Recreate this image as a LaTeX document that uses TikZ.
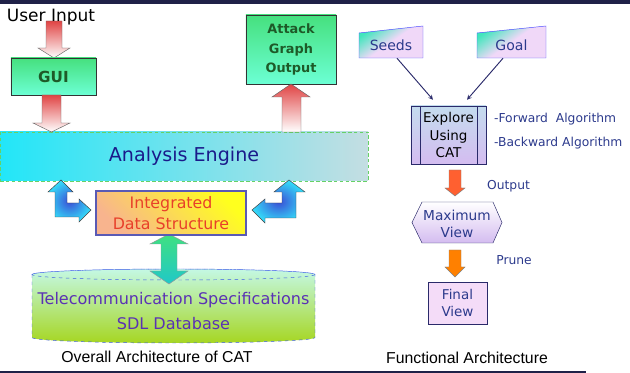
\documentclass[tikz,border=0pt]{standalone}
\usepackage{fontspec}
\setmainfont{DejaVu Sans}
\newfontfamily\capfont{Liberation Sans}
\usetikzlibrary{calc}

\definecolor{barblue}{HTML}{1F2148}
\definecolor{guitop}{HTML}{46E07E}
\definecolor{guibot}{HTML}{6CFFD4}
\definecolor{guitext}{HTML}{1E5A28}
\definecolor{redtop}{HTML}{E04444}
\definecolor{engcyan}{HTML}{22E6F8}
\definecolor{enggray}{HTML}{C4DEE2}
\definecolor{engtext}{HTML}{1A1A8A}
\definecolor{idsyellow}{HTML}{FFFF1E}
\definecolor{idsorange}{HTML}{F8B48E}
\definecolor{idsborder}{HTML}{5A5AB4}
\definecolor{idstext}{HTML}{E8402A}
\definecolor{bentcyan}{HTML}{34D8F8}
\definecolor{bentblue}{HTML}{3A4ED6}
\definecolor{dbtop}{HTML}{C4F8E4}
\definecolor{dbbot}{HTML}{A6D622}
\definecolor{dbborder}{HTML}{3A5AE6}
\definecolor{dbtext}{HTML}{5A32B4}
\definecolor{linktop}{HTML}{40E080}
\definecolor{linkbot}{HTML}{20C8C8}
\definecolor{rtext}{HTML}{2C3A8C}
\definecolor{lavender}{HTML}{F0D8F8}
\definecolor{inteal}{HTML}{40E6BC}
\definecolor{procfill}{HTML}{D4BCF0}
\definecolor{proctop}{HTML}{C4DCEE}
\definecolor{procline}{HTML}{2A2A6A}
\definecolor{outorange}{HTML}{FF6030}
\definecolor{pruneorange}{HTML}{FF8000}
\definecolor{finalfill}{HTML}{F4DCF8}

\begin{document}
\begin{tikzpicture}[x=0.03cm, y=-0.03cm, >=stealth,
    greenbox/.style={draw=black!80, top color=guitop, bottom color=guibot, text=guitext, align=center},
    redblock/.style={draw=black!60, top color=redtop, bottom color=white},
    bentblock/.style={draw=black!75, inner color=bentblue, outer color=bentcyan},
    linkblock/.style={draw=black!40, top color=linktop, bottom color=linkbot},
    inbox/.style={draw=blue!70, top color=inteal, bottom color=lavender, middle color=lavender, shading angle=35},
    blocklabel/.style={text=rtext, font=\fontsize{10.5}{12}\selectfont}]
    \useasboundingbox (0,0) rectangle (630,373);
    \fill[barblue] (0,0) rectangle (630,4);
    \fill[barblue] (0,371) rectangle (586,373);

    % overall architecture
    \shade[redblock] (46,21) -- (62,21) -- (62,48) -- (70,48) -- (54,58) -- (38,48) -- (46,48) -- cycle;
    \node[font=\fontsize{14.5}{16}\selectfont] (user) at (51,17) {User Input};
    \node[greenbox, minimum width=2.55cm, minimum height=1.11cm, font=\bfseries\fontsize{13}{15}\selectfont] (gui) at (53.5,76.5) {GUI};
    \node[draw=green!70!black!60, densely dashed, left color=engcyan, right color=enggray, minimum width=11.04cm, minimum height=1.47cm, text=engtext, font=\fontsize{16.3}{18}\selectfont] (engine) at (184,156.5) {Analysis Engine};
    \shade[redblock] (42,95) -- (61,95) -- (61,123) -- (70,123) -- (51.5,132) -- (33,123) -- (42,123) -- cycle;
    \node[greenbox, minimum width=2.7cm, minimum height=2.07cm, font=\bfseries\fontsize{11}{16.6}\selectfont] (attack) at (291,49.5) {Attack\\Graph\\Output};
    \shade[redblock] (282,132) -- (282,97) -- (272,97) -- (291,84) -- (310,97) -- (301,97) -- (301,132) -- cycle;

    % database
    \shade[top color=dbtop, bottom color=dbbot, draw=dbborder, dashed] (32,274.5) -- (32,337.5) arc[start angle=180, end angle=0, x radius=141.5, y radius=5.5] -- (315,274.5) arc[start angle=0, end angle=-180, x radius=141.5, y radius=5.5] -- cycle;
    \draw[dbborder, dashed] (173.5,274.5) ellipse[x radius=141.5, y radius=5.5];
    \node[text=dbtext, align=center, font=\fontsize{13.7}{21}\selectfont] (db) at (173.5,311) {Telecommunication Specifications\\SDL Database};
    \shade[linkblock] (169,234) -- (188,244) -- (177,244) -- (177,271) -- (188,271) -- (169,284) -- (150,271) -- (161,271) -- (161,244) -- (150,244) -- cycle;

    \node[draw=idsborder, line width=1.2pt, top color=idsyellow, bottom color=idsorange, shading angle=-45, minimum width=4.5cm, minimum height=1.32cm, align=center, text=idstext, font=\fontsize{13.5}{18}\selectfont] (ids) at (171,213) {Integrated\\Data Structure};
    \shade[bentblock] (61,180) -- (73,192) -- (67,192) -- (67,203) -- (79,203) -- (79,199) -- (91,210) -- (79,222) -- (79,217) -- (55,217) -- (55,192) -- (48,192) -- cycle;
    \shade[bentblock] (289,180) -- (305,192) -- (296,192) -- (296,218) -- (265,218) -- (265,223) -- (252,210) -- (265,199) -- (265,203) -- (282,203) -- (282,192) -- (274,192) -- cycle;
    \node[font=\capfont\fontsize{13.5}{15}\selectfont] (cap1) at (157,357) {Overall Architecture of CAT};

    % functional architecture
    \shade[inbox] (359,33) -- (423,26) -- (423,58) -- (359,58) -- cycle;
    \node[text=rtext, minimum width=1.92cm, minimum height=0.78cm, font=\fontsize{12}{14}\selectfont] (seeds) at (391,45) {Seeds};
    \shade[inbox] (477,33) -- (546,26) -- (546,58) -- (477,58) -- cycle;
    \node[text=rtext, minimum width=2.07cm, minimum height=0.78cm, font=\fontsize{12}{14}\selectfont] (goal) at (511.5,45) {Goal};
    \node[draw=procline, top color=proctop, bottom color=procfill, minimum width=2.25cm, minimum height=1.74cm, align=center, font=\fontsize{11.5}{14.9}\selectfont] (explore) at (448.5,135) {Explore\\Using\\CAT};
    \draw[procline] ($(explore.north west)+(9,0)$) -- ($(explore.south west)+(9,0)$);
    \draw[procline] ($(explore.north east)+(-9,0)$) -- ($(explore.south east)+(-9,0)$);
    \draw[->, procline, line width=0.8pt] ($(seeds.south)+(6,0)$) -- ($(explore.north)+(-15.5,-6)$);
    \draw[->, procline, line width=0.8pt] ($(goal.south)+(-8.5,0)$) -- ($(explore.north)+(18.5,-6)$);
    \node[blocklabel, anchor=west] (fwd) at (490,119) {-Forward\ \ Algorithm};
    \node[blocklabel, anchor=west] (bwd) at (490,143) {-Backward Algorithm};

    \fill[outorange, draw=black!50] (449,170) -- (461,170) -- (461,188) -- (465,188) -- (455,196) -- (445,188) -- (449,188) -- cycle;
    \node[blocklabel] (output) at (508.5,186) {Output};
    \shade[top color=white, bottom color=procfill, draw=procline] (412,222.5) -- (422,202) -- (493,202) -- (502,222.5) -- (493,243) -- (422,243) -- cycle;
    \node[text=rtext, align=center, font=\fontsize{11.7}{14.5}\selectfont] (max) at (457,223.5) {Maximum\\View};
    \fill[pruneorange, draw=black!50] (449,250) -- (461,250) -- (461,267) -- (465,267) -- (455,277) -- (445,267) -- (449,267) -- cycle;
    \node[blocklabel] (prune) at (514,260) {Prune};
    \node[draw=procline, fill=finalfill, minimum width=1.77cm, minimum height=1.26cm, align=center, text=rtext, font=\fontsize{11.5}{14.5}\selectfont] (final) at (457.5,303) {Final\\View};
    \node[font=\capfont\fontsize{13.5}{15}\selectfont] (cap2) at (467,358) {Functional Architecture};
\end{tikzpicture}
\end{document}
